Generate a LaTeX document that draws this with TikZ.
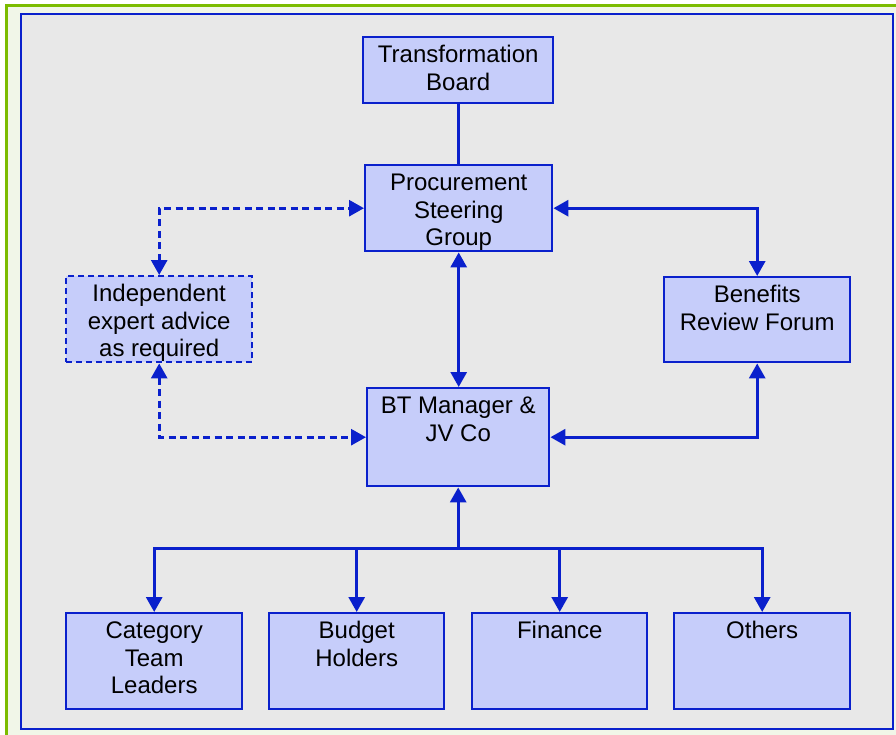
\documentclass[tikz,border=0pt]{standalone}
\usepackage{fontspec}
\setmainfont{Liberation Sans}
\usetikzlibrary{arrows.meta}
\definecolor{lnblue}{RGB}{10,32,204}
\definecolor{boxfill}{RGB}{198,205,250}
\definecolor{panel}{RGB}{232,232,232}
\definecolor{grn}{RGB}{124,188,0}
\definecolor{grnfill}{RGB}{241,246,232}
\newcommand{\bxt}[3]{\parbox[c][#2][t]{#1}{\centering\rule{0pt}{25.5pt}#3}}
\begin{document}
\begin{tikzpicture}[x=1pt,y=-1pt,
  >={Triangle[length=15pt,width=16pt]},
  box/.style={draw=lnblue, fill=boxfill, line width=2.4pt, inner sep=0pt, anchor=north west,
    font=\fontsize{24}{27.6}\selectfont},
  dbox/.style={box, dash pattern=on 6pt off 4pt},
  conn/.style={draw=lnblue, line width=3pt},
  dconn/.style={conn, line width=2.8pt, dash pattern=on 7pt off 4.5pt}]
\useasboundingbox (0,0) rectangle (896,735);
\fill[white] (0,0) rectangle (896,735);
\draw[grn, line width=3pt, fill=grnfill] (6.2,5.2) rectangle (905,745);
\draw[lnblue, line width=2.2pt, fill=panel] (21,14) rectangle (893,729);

\node[box] (tb) at (362,36) {\bxt{190pt}{66pt}{Transformation\\Board}};
\node[box] (psg) at (364,164) {\bxt{187pt}{86pt}{Procurement\\Steering\\Group}};
\node[dbox] (iea) at (65,275) {\bxt{186pt}{86pt}{Independent\\expert advice\\as required}};
\node[box] (brf) at (663,276) {\bxt{186pt}{85pt}{Benefits\\Review Forum}};
\node[box] (bt) at (366,387) {\bxt{182pt}{98pt}{BT Manager \&\\JV Co}};
\node[box] (cat) at (65,612) {\bxt{176pt}{96pt}{Category\\Team\\Leaders}};
\node[box] (bud) at (268,612) {\bxt{175pt}{96pt}{Budget\\Holders}};
\node[box] (fin) at (471,612) {\bxt{175pt}{96pt}{Finance}};
\node[box] (oth) at (673,612) {\bxt{176pt}{96pt}{Others}};

\draw[conn] (tb.south) -- (tb.south |- psg.north);
\draw[conn,<->] (psg.south) -- (psg.south |- bt.north);
\draw[conn,<->] (psg.east) -| (brf.north);
\draw[conn,<->] (brf.south) |- (bt.east);
\draw[dconn,<->] (iea.north) |- (psg.west);
\draw[dconn,<->] (iea.south) |- (bt.west);

\coordinate (busy) at (0,548);
\coordinate (bus) at (bt.south |- busy);
\draw[conn,->] (bus) -- (bt.south);
\draw[conn,->] (bus) -| (cat.north);
\draw[conn,->] (bus) -| (bud.north);
\draw[conn,->] (bus) -| (fin.north);
\draw[conn,->] (bus) -| (oth.north);
\end{tikzpicture}
\end{document}
